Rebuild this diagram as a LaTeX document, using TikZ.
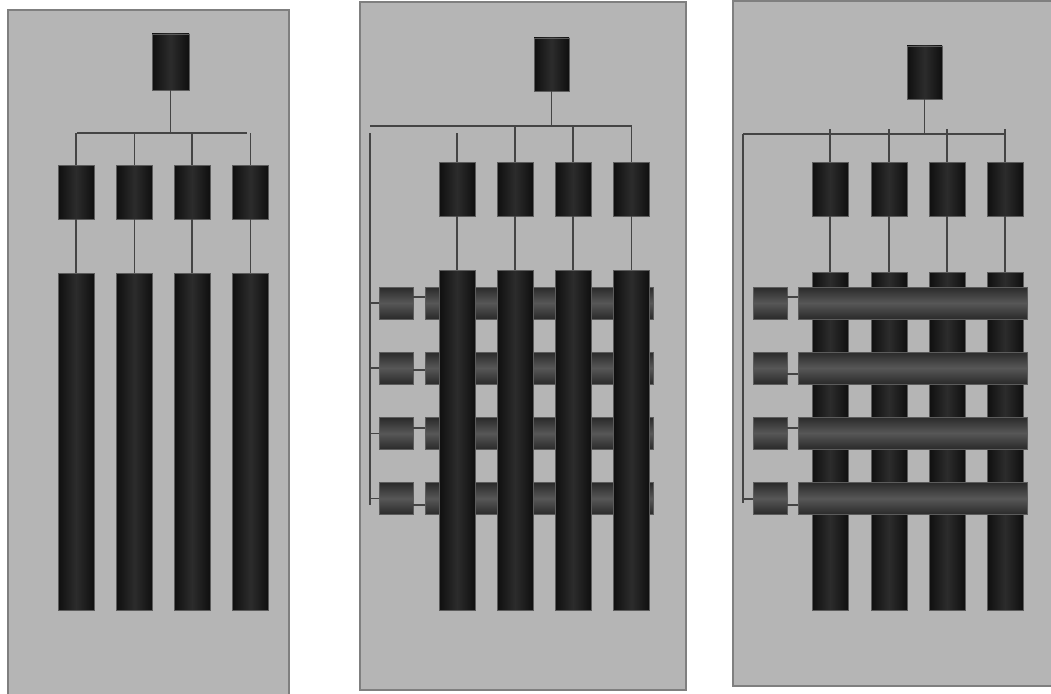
\documentclass[tikz,border=0pt]{standalone}
\usetikzlibrary{calc}
\definecolor{panelbg}{HTML}{B5B5B5}
\definecolor{paneledge}{HTML}{7F7F7F}
\definecolor{wire}{HTML}{444444}
\definecolor{boxedge}{HTML}{5C5C5C}
\definecolor{vdark}{HTML}{0F0F0F}
\definecolor{vmid}{HTML}{2C2C2C}
\definecolor{hdark}{HTML}{2A2A2A}
\definecolor{hmid}{HTML}{575757}
\tikzset{
  panel/.style={fill=panelbg,draw=paneledge,line width=1.2pt},
  wirel/.style={draw=wire,line width=1.4pt},
  vbox/.style={draw=boxedge,line width=0.8pt,inner sep=0pt,outer sep=0pt,
    left color=vdark,right color=vdark,middle color=vmid},
  hbox/.style={draw=boxedge,line width=0.8pt,inner sep=0pt,outer sep=0pt,
    top color=hdark,bottom color=hdark,middle color=hmid},
}
\begin{document}
\begin{tikzpicture}[x=1pt,y=-1pt]
\useasboundingbox (0,0) rectangle (1051,693);
\fill[white] (0,0) rectangle (1051,693);
% ---------------- panels
\draw[panel] (8,10) rectangle (289,697);
\draw[panel] (360,2) rectangle (686,690);
\draw[panel] (733,1) rectangle (1065,686);

% ================= Panel 1
\node[vbox,minimum width=37pt,minimum height=56pt] (p1top) at (170.5,62) {};
\coordinate (p1busL) at (77,133);
\coordinate (p1busR) at (247,133);
\coordinate (p1busC) at (p1top.south |- p1busL);
\draw[wirel] (p1busL) -- (p1busR);
\draw[wirel] (p1top.south) -- (p1busC);
\foreach \i/\x in {1/76,2/134.5,3/192,4/250.5}{
  \node[vbox,minimum width=36pt,minimum height=54pt] (p1m\i) at (\x,192) {};
  \node[vbox,minimum width=36pt,minimum height=337pt] (p1b\i) at (\x,441.5) {};
  \draw[wirel] (p1m\i.north |- p1busL) -- (p1m\i.north);
  \draw[wirel] (p1m\i.south) -- (p1b\i.north);
}

% ================= Panel 2
\node[vbox,minimum width=35pt,minimum height=53pt] (p2top) at (551.5,64.5) {};
\coordinate (p2busL) at (370,126);
\coordinate (p2busR) at (632,126);
\coordinate (p2busC) at (p2top.south |- p2busL);
\coordinate (p2vT) at (370,133);
\coordinate (p2vB) at (370,505);
\draw[wirel] (p2busL) -- (p2busR);
\draw[wirel] (p2top.south) -- (p2busC);
\draw[wirel] (p2vT) -- (p2vB);
% horizontal bars (behind)
\foreach \r/\y/\c in {1/303/297,2/368/370,3/433.5/428,4/498.5/505}{
  \node[hbox,minimum width=228pt,minimum height=32pt] (p2h\r) at (539,\y) {};
  \node[hbox,minimum width=34pt,minimum height=32pt] (p2s\r) at (396,\y) {};
  \coordinate (p2t\r) at (370,\y);
  \draw[wirel] (p2t\r) -- (p2s\r.west);
  \draw[wirel] (p2s\r.east |- 0,\c) -- (p2h\r.west |- 0,\c);
}
\foreach \i/\x/\s in {1/457/133,2/515/126,3/573/126,4/631.5/126}{
  \node[vbox,minimum width=36pt,minimum height=54pt] (p2m\i) at (\x,189) {};
  \node[vbox,minimum width=36pt,minimum height=340pt] (p2b\i) at (\x,440) {};
  \coordinate (p2d\i) at (\x,\s);
  \draw[wirel] (p2d\i) -- (p2m\i.north);
  \draw[wirel] (p2m\i.south) -- (p2b\i.north);
}

% ================= Panel 3
\node[vbox,minimum width=35pt,minimum height=53pt] (p3top) at (924.5,72.5) {};
\coordinate (p3busL) at (743,134);
\coordinate (p3busR) at (1005,134);
\coordinate (p3busC) at (p3top.south |- p3busL);
\coordinate (p3vB) at (743,503);
\draw[wirel] (p3busL) -- (p3busR);
\draw[wirel] (p3top.south) -- (p3busC);
\draw[wirel] (p3busL) -- (p3vB);
\foreach \i/\x in {1/830,2/889,3/947,4/1005}{
  \node[vbox,minimum width=36pt,minimum height=54pt] (p3m\i) at (\x,189) {};
  \node[vbox,minimum width=36pt,minimum height=338pt] (p3b\i) at (\x,441) {};
  \coordinate (p3d\i) at (\x,129);
  \draw[wirel] (p3d\i) -- (p3m\i.north);
  \draw[wirel] (p3m\i.south) -- (p3b\i.north);
}
% horizontal bars (in front)
\foreach \r/\y/\c in {1/303/297,2/368/374,3/433/428,4/498.5/505}{
  \node[hbox,minimum width=229pt,minimum height=32pt] (p3h\r) at (912.5,\y) {};
  \node[hbox,minimum width=34pt,minimum height=32pt] (p3s\r) at (770,\y) {};
  \draw[wirel] (p3s\r.east |- 0,\c) -- (p3h\r.west |- 0,\c);
}
\coordinate (p3t4) at (743,499);
\draw[wirel] (p3t4) -- (p3s4.west |- p3t4);
\end{tikzpicture}
\end{document}
